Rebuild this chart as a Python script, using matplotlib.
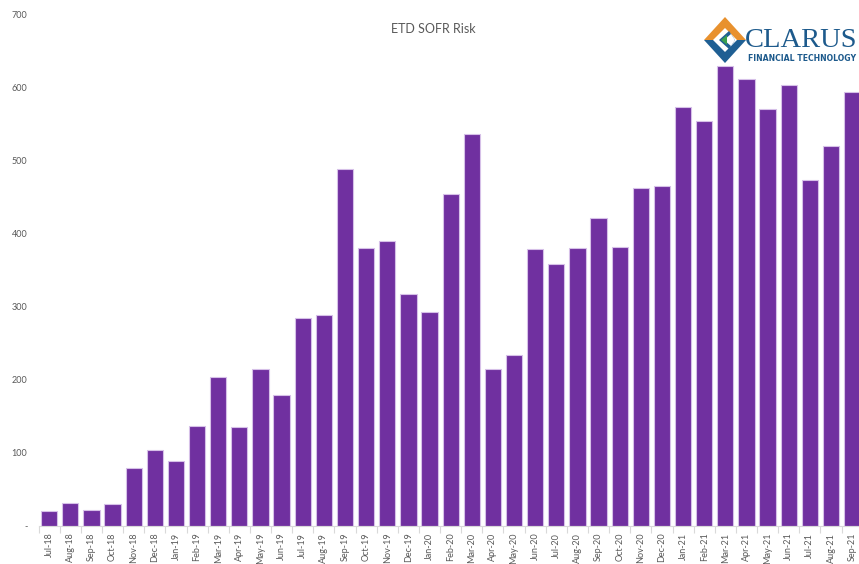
import matplotlib.pyplot as plt
import numpy as np
from matplotlib.patches import Polygon

months = [
    "Jul-18", "Aug-18", "Sep-18", "Oct-18", "Nov-18", "Dec-18",
    "Jan-19", "Feb-19", "Mar-19", "Apr-19", "May-19", "Jun-19",
    "Jul-19", "Aug-19", "Sep-19", "Oct-19", "Nov-19", "Dec-19",
    "Jan-20", "Feb-20", "Mar-20", "Apr-20", "May-20", "Jun-20",
    "Jul-20", "Aug-20", "Sep-20", "Oct-20", "Nov-20", "Dec-20",
    "Jan-21", "Feb-21", "Mar-21", "Apr-21", "May-21", "Jun-21",
    "Jul-21", "Aug-21", "Sep-21",
]
risk = [
    20, 31, 22, 30, 79, 104,
    89, 136, 204, 135, 214, 179,
    285, 288, 489, 380, 390, 318,
    293, 454, 536, 215, 234, 379,
    358, 381, 421, 382, 463, 466,
    574, 555, 630, 612, 571, 604,
    474, 520, 594,
]
y_ticks = [0, 100, 200, 300, 400, 500, 600, 700]
y_tick_labels = ["-", "100", "200", "300", "400", "500", "600", "700"]

W, H = 859, 564
BAR = "#7030A0"
GREY = "#595959"

plt.rcParams["font.family"] = ["Lato", "DejaVu Sans"]

fig = plt.figure(figsize=(W / 100, H / 100), dpi=100)
ax = fig.add_axes([38.6 / W, 38.3 / H, 824.1 / W, 511.0 / H])

x = np.arange(len(months))
ax.bar(x, risk, width=0.77, color=BAR, edgecolor="#d6c0e8", linewidth=0.8)

ax.set_xlim(-0.5, len(months) - 0.5)
ax.set_ylim(0, 700)
ax.set_yticks(y_ticks, y_tick_labels)
ax.set_xticks(x, months, rotation=90)
ax.set_xticks(np.arange(-0.5, len(months), 1), minor=True)

ax.tick_params(axis="y", length=0, pad=8, labelsize=6.5, labelcolor=GREY)
ax.tick_params(axis="x", which="major", length=0, pad=5, labelsize=6.5,
               labelcolor=GREY)
ax.tick_params(axis="x", which="minor", length=5, width=0.8, color="#d9d9d9")

for side in ["top", "right", "left"]:
    ax.spines[side].set_visible(False)
ax.spines["bottom"].set_color("#d9d9d9")
ax.spines["bottom"].set_linewidth(0.8)

fig.text(433 / W, 1 - 29 / H, "ETD SOFR Risk", ha="center", va="center",
         fontsize=9, color=GREY)


# clarus logo, top right
def px(pts):
    return [(a / W, 1 - b / H) for a, b in pts]


logo = [
    ([(725, 17), (746, 40), (704, 40)], "#e8912e"),
    ([(704, 40), (746, 40), (725, 63)], "#1f5f93"),
    ([(725, 28), (737, 40), (725, 52), (713, 40)], "white"),
    ([(729, 31), (735, 40), (729, 49), (719, 40)], "#1f5f93"),
    ([(731, 34), (735, 40), (731, 46), (724, 40)], "white"),
    ([(721, 40), (727, 35), (727, 45)], "#3aa050"),
]
for pts, col in logo:
    fig.add_artist(Polygon(px(pts), closed=True, facecolor=col,
                           edgecolor="none", transform=fig.transFigure))

fig.text(745 / W, 1 - 47 / H, "CLARUS", ha="left", va="baseline",
         fontsize=20.5, color="#1d5a8c", family=["Liberation Serif"])
fig.text(748 / W, 1 - 61 / H, "FINANCIAL TECHNOLOGY", ha="left",
         va="baseline", fontsize=5.6, fontweight="bold", color="#1d5a8c",
         family=["DejaVu Sans"])

fig.savefig("out.png", dpi=100)
